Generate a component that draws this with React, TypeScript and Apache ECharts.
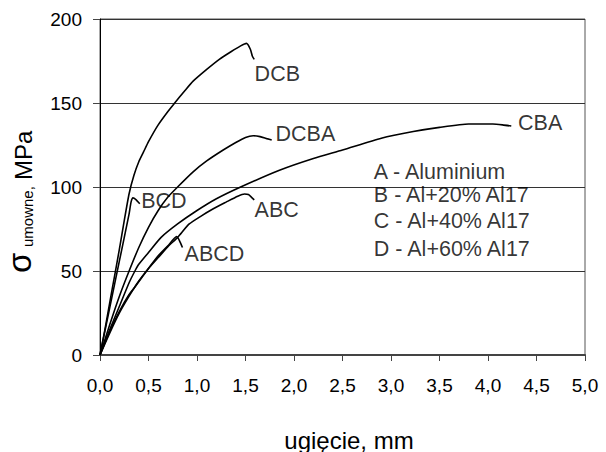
import React, { useEffect, useRef } from "react";
import * as echarts from "echarts";

// x: ugięcie [mm], y: σ umowne [MPa]
const curveDCB: [number, number][] = [
  [0, 0], [0.05, 15], [0.1, 31], [0.15, 47], [0.2, 63], [0.25, 80], [0.3, 96], [0.35, 107],
  [0.4, 115], [0.45, 121], [0.5, 127], [0.6, 137], [0.7, 145], [0.77, 150], [0.87, 157],
  [0.96, 163], [1.1, 170], [1.23, 176], [1.35, 180.5], [1.45, 184], [1.51, 185.5],
  [1.55, 182], [1.57, 178], [1.59, 176],
];
const curveBCD: [number, number][] = [
  [0, 0], [0.1, 28], [0.2, 56], [0.3, 84], [0.32, 91], [0.34, 93.5], [0.37, 92.5], [0.41, 90],
];
const curveDCBA: [number, number][] = [
  [0, 0], [0.1, 18], [0.2, 35], [0.3, 50], [0.4, 64], [0.5, 76], [0.6, 86], [0.7, 94],
  [0.8, 100], [0.96, 109], [1.1, 115.5], [1.27, 122], [1.4, 126.5], [1.5, 129.5],
  [1.58, 130.5], [1.65, 130], [1.72, 128.8], [1.77, 128],
];
const curveCBA: [number, number][] = [
  [0, 0], [0.1, 15], [0.2, 29], [0.3, 43], [0.36, 50], [0.4, 54], [0.5, 61], [0.63, 70],
  [0.8, 78], [1.0, 86], [1.2, 93], [1.45, 100], [1.85, 110], [2.2, 117], [2.5, 122],
  [2.9, 129], [3.23, 133], [3.5, 135.5], [3.8, 137.5], [4.05, 137.5], [4.15, 137], [4.24, 136.3],
];
const curveABC: [number, number][] = [
  [0, 0], [0.1, 13], [0.2, 25], [0.3, 35], [0.4, 44], [0.5, 51.5], [0.6, 58], [0.7, 64.5],
  [0.8, 70], [0.92, 78], [1.05, 83], [1.15, 86.5], [1.3, 91], [1.42, 94.5], [1.49, 95.8],
  [1.53, 95.5], [1.56, 94], [1.59, 92.3],
];
const curveABCD: [number, number][] = [
  [0, 0], [0.1, 14], [0.2, 26], [0.3, 36], [0.36, 40.5], [0.48, 50], [0.6, 59], [0.7, 65],
  [0.79, 70.5], [0.82, 68], [0.85, 64],
];

const curveNames = ["DCB", "BCD", "DCBA", "CBA", "ABC", "ABCD"];
const curves = [curveDCB, curveBCD, curveDCBA, curveCBA, curveABC, curveABCD];

// text annotations anchored in data coordinates (left edge, vertical middle)
const labelTexts = [
  "DCB", "DCBA", "CBA", "BCD", "ABC", "ABCD",
  "A - Aluminium", "B - Al+20% Al17", "C - Al+40% Al17", "D - Al+60% Al17",
];
const labelPos: [number, number][] = [
  [1.594, 167.3], [1.81, 131.3], [4.31, 138.1], [0.425, 91.7], [1.594, 86.6], [0.872, 60.1],
  [2.823, 108.7], [2.823, 95.5], [2.823, 79.5], [2.823, 63.1],
];

const xTicks = { min: 0, max: 5, interval: 0.5 };
const yTicks = { min: 0, max: 200, interval: 50 };

const FONT = "'Liberation Sans', Arial, sans-serif";

export default function App() {
  const ref = useRef<HTMLDivElement>(null);
  useEffect(() => {
    if (!ref.current) return;
    const chart = echarts.init(ref.current, undefined, { renderer: "svg" });
    const lineSeries = curves.map((d, i) => ({
      type: "line",
      name: curveNames[i],
      data: d,
      showSymbol: false,
      symbol: "none",
      smooth: 0.2,
      lineStyle: { color: "#000", width: 1.6 },
      z: 3,
    }));
    chart.setOption({
      animation: false,
      backgroundColor: "#fff",
      grid: {
        left: 100,
        top: 19,
        width: 485,
        height: 336,
        show: true,
        borderColor: "#555",
        borderWidth: 1,
        backgroundColor: "transparent",
      },
      xAxis: {
        type: "value",
        ...xTicks,
        axisLine: { show: true, lineStyle: { color: "#444", width: 2 } },
        axisTick: { show: true, inside: false, length: 6, lineStyle: { color: "#444", width: 1 } },
        splitLine: { show: false },
        axisLabel: {
          color: "#000",
          fontFamily: FONT,
          fontSize: 19,
          margin: 21,
          formatter: (v: number) => v.toFixed(1).replace(".", ","),
        },
      },
      yAxis: {
        type: "value",
        ...yTicks,
        axisLine: { show: true, lineStyle: { color: "#000", width: 1 } },
        axisTick: { show: true, inside: false, length: 7, lineStyle: { color: "#444", width: 1 } },
        splitLine: { show: true, lineStyle: { color: "#333", width: 1 } },
        axisLabel: { color: "#000", fontFamily: FONT, fontSize: 19, margin: 18 },
      },
      series: [
        ...lineSeries,
        {
          type: "scatter",
          symbolSize: 0,
          silent: true,
          data: labelPos.map((p, i) => ({ value: p, name: labelTexts[i] })),
          label: {
            show: true,
            position: "right",
            distance: 0,
            formatter: (p: any) => p.name,
            color: "#000",
            fontFamily: FONT,
            fontSize: 21.5,
            lineHeight: 20,
          },
          z: 4,
        },
      ],
      graphic: [
        {
          type: "text",
          x: 349,
          y: 440,
          style: {
            text: "ugięcie, mm",
            font: `24px ${FONT}`,
            fill: "#000",
            align: "center",
            verticalAlign: "middle",
          },
        },
        {
          type: "group",
          x: 0,
          y: 273,
          rotation: Math.PI / 2,
          children: [
            {
              type: "text",
              x: 0,
              y: 19.5,
              style: { text: "σ", font: `33px ${FONT}`, fill: "#000", align: "left", verticalAlign: "middle" },
            },
            {
              type: "text",
              x: 26,
              y: 27,
              style: { text: "umowne,", font: `15px ${FONT}`, fill: "#000", align: "left", verticalAlign: "middle" },
            },
            {
              type: "text",
              x: 93,
              y: 23,
              style: { text: "MPa", font: `24px ${FONT}`, fill: "#000", align: "left", verticalAlign: "middle" },
            },
          ],
        },
      ],
    });
    return () => chart.dispose();
  }, []);
  return <div ref={ref} style={{ width: 606, height: 452, position: "absolute", left: 0, top: 0 }} />;
}
